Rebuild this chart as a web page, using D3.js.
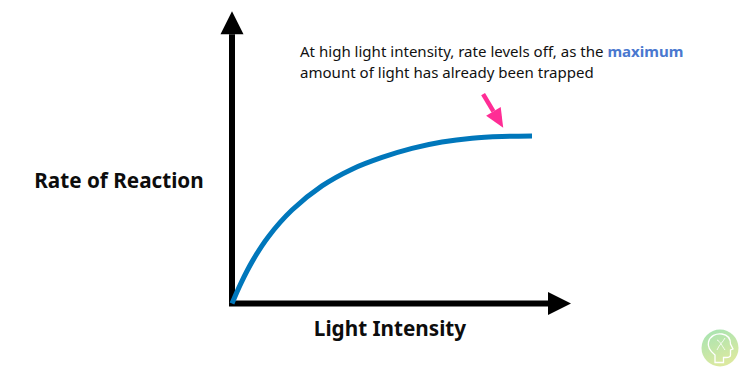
<!DOCTYPE html>
<html>
<head>
<meta charset="utf-8">
<script src="https://cdn.jsdelivr.net/npm/d3@7"></script>
<style>
html,body{margin:0;padding:0;background:#fff;overflow:hidden}
svg{display:block}
text{font-family:"Noto Sans",sans-serif}
</style>
</head>
<body>
<svg id="chart" width="745" height="368"></svg>
<script>
const lightIntensity = [0,3,7,12,20,30,40,50,60,70,80,90,100];
const reactionRate   = [0,12.2,25.9,39.6,55.8,70.2,80.2,87.2,92.6,96.4,98.7,99.7,100];
const xAxisExtent = [-1,113];
const yAxisExtent = [-1,174.5];
const calloutFrom = [83.7,125];
const calloutTo   = [90.4,105];
const xTitle = "Light Intensity";
const yTitle = "Rate of Reaction";
const noteLine1 = "At high light intensity, rate levels off, as the ";
const noteEmphasis = "maximum";
const noteLine2 = "amount of light has already been trapped";

const svg = d3.select("#chart");
const x = d3.scaleLinear().domain([0,100]).range([232,532]);
const y = d3.scaleLinear().domain([0,100]).range([303.5,136]);

const defs = svg.append("defs");
const grad = defs.append("linearGradient").attr("id","badge").attr("x1",0).attr("y1",0).attr("x2",0.4).attr("y2",1);
grad.append("stop").attr("offset","0%").attr("stop-color","#a3e3b4");
grad.append("stop").attr("offset","100%").attr("stop-color","#dbe9a0");

// axes
const line = d3.line();
function arrow(from, to, width, headLen, headHalf, color){
  const dx = to[0]-from[0], dy = to[1]-from[1], L = Math.hypot(dx,dy), ux = dx/L, uy = dy/L;
  const base = [to[0]-ux*headLen, to[1]-uy*headLen];
  svg.append("path").attr("d",line([from,base])).attr("stroke",color).attr("stroke-width",width).attr("fill","none");
  svg.append("path").attr("d",line([to,[base[0]-uy*headHalf,base[1]+ux*headHalf],[base[0]+uy*headHalf,base[1]-ux*headHalf]])+"Z").attr("fill",color);
}
arrow([x(xAxisExtent[0]),y(0)],[x(xAxisExtent[1]),y(0)],6,23,11.5,"#000");
arrow([x(0),y(yAxisExtent[0])],[x(0),y(yAxisExtent[1])],6,23,11.5,"#000");

// curve
svg.append("path")
  .attr("d",d3.line().x(d=>x(d[0])).y(d=>y(d[1])).curve(d3.curveCatmullRom.alpha(0.5))(d3.zip(lightIntensity,reactionRate)))
  .attr("fill","none").attr("stroke","#0077bb").attr("stroke-width",5);

// callout
arrow([x(calloutFrom[0]),y(calloutFrom[1])],[x(calloutTo[0]),y(calloutTo[1])],4.5,19,8.5,"#ff2d95");

// titles
svg.append("text").attr("x",119).attr("y",187.5).attr("text-anchor","middle").attr("font-size",20.7).attr("font-weight",700).attr("fill","#0d0d0d").text(yTitle);
svg.append("text").attr("x",390).attr("y",336).attr("text-anchor","middle").attr("font-size",20.7).attr("font-weight",700).attr("fill","#0d0d0d").text(xTitle);

// note
const n1 = svg.append("text").attr("x",300).attr("y",56.5).attr("font-size",15.05).attr("fill","#111");
n1.append("tspan").text(noteLine1);
n1.append("tspan").attr("font-weight",700).attr("fill","#4a78cf").text(noteEmphasis);
svg.append("text").attr("x",300).attr("y",78).attr("font-size",15.05).attr("fill","#111").text(noteLine2);

// badge
const badge = svg.append("g").attr("transform","translate(720,348)");
badge.append("circle").attr("r",18.5).attr("fill","url(#badge)");
badge.append("path")
  .attr("d","M-5,14.5 V7 C-10,3 -12.5,-2 -11.5,-6 C-10,-12 -4,-15 2,-14 C8,-13 10.5,-9 10.5,-4 L13,1 L10.5,2 V7 C10.5,9 9,9.5 6,9.5 H3.5 V14.5 Z")
  .attr("fill","none").attr("stroke","#fff").attr("stroke-width",1.3);
badge.append("path").attr("d","M-3,-8 C0,-7 2,-2 5,2 M5,-10 C3,-6 -1,-3 -3,2").attr("fill","none").attr("stroke","#fff").attr("stroke-width",0.9).attr("opacity",0.9);
</script>
</body>
</html>
